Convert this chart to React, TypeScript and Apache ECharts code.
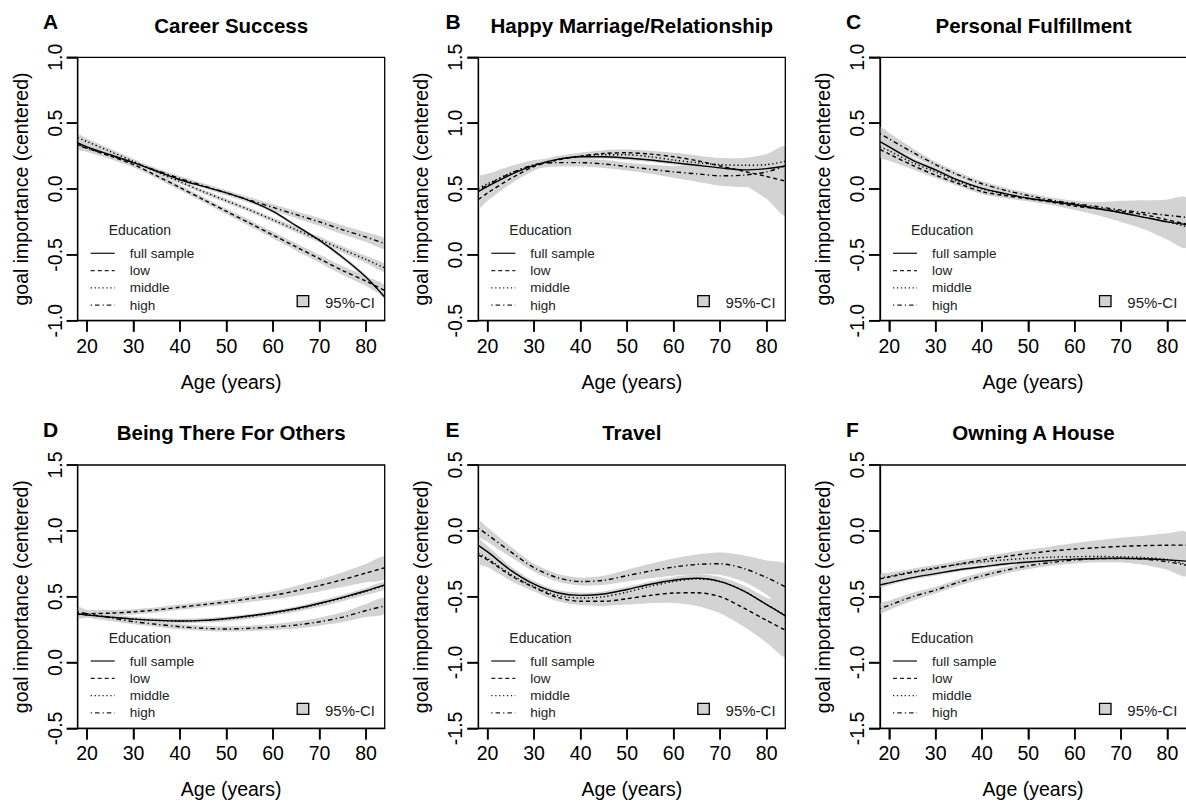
import React, { useEffect, useRef } from "react";
import * as echarts from "echarts";

const ages = [18, 20, 25, 30, 35, 40, 45, 50, 55, 60, 65, 70, 75, 80, 84];
const xTicks = [20, 30, 40, 50, 60, 70, 80];

const panelLetters = ["A", "B", "C", "D", "E", "F"];
const panelTitles = [
  "Career Success",
  "Happy Marriage/Relationship",
  "Personal Fulfillment",
  "Being There For Others",
  "Travel",
  "Owning A House",
];
const yMins = [-1, -0.5, -1, -0.5, -1.5, -1.5];
const yMaxs = [1, 1.5, 1, 1.5, 0.5, 0.5];
const groupNames = ["full sample", "low", "middle", "high"];

// A: Career Success
const A_full = [0.35, 0.32, 0.26, 0.2, 0.135, 0.07, 0.02, -0.03, -0.09, -0.17, -0.28, -0.39, -0.52, -0.67, -0.82];
const A_low = [0.34, 0.31, 0.25, 0.185, 0.1, 0.01, -0.08, -0.17, -0.26, -0.35, -0.44, -0.53, -0.62, -0.7, -0.77];
const A_mid = [0.39, 0.36, 0.285, 0.21, 0.13, 0.055, -0.02, -0.09, -0.16, -0.235, -0.31, -0.385, -0.46, -0.535, -0.6];
const A_high = [0.33, 0.31, 0.255, 0.2, 0.14, 0.08, 0.025, -0.03, -0.085, -0.14, -0.195, -0.25, -0.31, -0.365, -0.415];
const A_fullCI = [0.02, 0.015, 0.012, 0.01, 0.01, 0.01, 0.01, 0.01, 0.01, 0.012, 0.012, 0.015, 0.015, 0.018, 0.02];
const A_lowCI = [0.03, 0.028, 0.025, 0.022, 0.02, 0.02, 0.02, 0.022, 0.024, 0.026, 0.028, 0.03, 0.033, 0.036, 0.04];
const A_midCI = [0.025, 0.022, 0.02, 0.018, 0.016, 0.016, 0.016, 0.016, 0.016, 0.018, 0.02, 0.022, 0.024, 0.026, 0.03];
const A_highCI = [0.03, 0.027, 0.024, 0.02, 0.018, 0.018, 0.018, 0.02, 0.022, 0.024, 0.027, 0.03, 0.033, 0.037, 0.04];

// B: Happy Marriage/Relationship
const B_full = [0.48, 0.52, 0.61, 0.68, 0.725, 0.745, 0.745, 0.735, 0.72, 0.7, 0.68, 0.66, 0.645, 0.655, 0.675];
const B_low = [0.42, 0.47, 0.58, 0.67, 0.72, 0.75, 0.77, 0.775, 0.765, 0.745, 0.715, 0.675, 0.635, 0.595, 0.56];
const B_mid = [0.505, 0.54, 0.62, 0.68, 0.725, 0.75, 0.76, 0.76, 0.745, 0.72, 0.7, 0.685, 0.68, 0.685, 0.71];
const B_high = [0.49, 0.53, 0.62, 0.685, 0.7, 0.7, 0.69, 0.67, 0.65, 0.63, 0.615, 0.6, 0.605, 0.63, 0.675];
const B_fullCI = [0.03, 0.025, 0.02, 0.015, 0.015, 0.015, 0.015, 0.015, 0.015, 0.015, 0.018, 0.02, 0.022, 0.025, 0.03];
const B_lowCI = [0.07, 0.06, 0.04, 0.03, 0.025, 0.025, 0.025, 0.025, 0.025, 0.03, 0.04, 0.06, 0.1, 0.17, 0.26];
const B_midCI = [0.06, 0.05, 0.035, 0.025, 0.025, 0.025, 0.025, 0.025, 0.025, 0.025, 0.028, 0.03, 0.035, 0.04, 0.05];
const B_highCI = [0.1, 0.085, 0.055, 0.035, 0.03, 0.03, 0.03, 0.03, 0.035, 0.045, 0.06, 0.075, 0.09, 0.11, 0.14];

// C: Personal Fulfillment
const C_full = [0.36, 0.32, 0.22, 0.145, 0.065, 0.005, -0.035, -0.07, -0.095, -0.12, -0.15, -0.18, -0.215, -0.25, -0.27];
const C_low = [0.3, 0.265, 0.18, 0.105, 0.04, -0.02, -0.05, -0.075, -0.1, -0.13, -0.15, -0.17, -0.195, -0.235, -0.265];
const C_mid = [0.32, 0.29, 0.2, 0.13, 0.055, 0.0, -0.04, -0.07, -0.095, -0.115, -0.145, -0.18, -0.215, -0.25, -0.285];
const C_high = [0.42, 0.38, 0.28, 0.185, 0.105, 0.04, -0.01, -0.05, -0.085, -0.11, -0.135, -0.16, -0.18, -0.2, -0.215];
const C_fullCI = [0.03, 0.025, 0.02, 0.018, 0.015, 0.015, 0.015, 0.015, 0.015, 0.015, 0.018, 0.02, 0.022, 0.025, 0.03];
const C_lowCI = [0.06, 0.05, 0.03, 0.022, 0.02, 0.02, 0.02, 0.02, 0.022, 0.03, 0.05, 0.08, 0.11, 0.15, 0.18];
const C_midCI = [0.03, 0.028, 0.022, 0.02, 0.018, 0.018, 0.018, 0.018, 0.018, 0.02, 0.022, 0.024, 0.026, 0.028, 0.03];
const C_highCI = [0.05, 0.045, 0.03, 0.022, 0.02, 0.02, 0.02, 0.02, 0.02, 0.02, 0.03, 0.05, 0.08, 0.12, 0.15];

// D: Being There For Others
const D_full = [0.37, 0.36, 0.345, 0.33, 0.32, 0.315, 0.32, 0.335, 0.355, 0.38, 0.41, 0.45, 0.495, 0.545, 0.59];
const D_low = [0.365, 0.37, 0.375, 0.385, 0.4, 0.42, 0.44, 0.46, 0.485, 0.51, 0.545, 0.585, 0.63, 0.68, 0.72];
const D_mid = [0.375, 0.365, 0.345, 0.33, 0.32, 0.315, 0.32, 0.33, 0.35, 0.375, 0.405, 0.445, 0.49, 0.54, 0.585];
const D_high = [0.385, 0.37, 0.34, 0.31, 0.29, 0.272, 0.26, 0.255, 0.26, 0.27, 0.285, 0.31, 0.345, 0.395, 0.43];
const D_fullCI = [0.02, 0.018, 0.015, 0.012, 0.012, 0.012, 0.012, 0.012, 0.012, 0.012, 0.014, 0.016, 0.018, 0.02, 0.022];
const D_lowCI = [0.03, 0.028, 0.024, 0.02, 0.02, 0.02, 0.02, 0.022, 0.025, 0.03, 0.037, 0.045, 0.055, 0.07, 0.085];
const D_midCI = [0.025, 0.022, 0.02, 0.018, 0.018, 0.018, 0.018, 0.018, 0.018, 0.018, 0.02, 0.022, 0.024, 0.026, 0.028];
const D_highCI = [0.035, 0.03, 0.025, 0.02, 0.02, 0.02, 0.02, 0.02, 0.02, 0.022, 0.026, 0.03, 0.038, 0.05, 0.06];

// E: Travel
const E_full = [-0.11, -0.16, -0.3, -0.405, -0.47, -0.49, -0.48, -0.445, -0.405, -0.375, -0.36, -0.385, -0.455, -0.56, -0.645];
const E_low = [-0.185, -0.22, -0.34, -0.43, -0.505, -0.535, -0.535, -0.515, -0.49, -0.472, -0.47, -0.5, -0.585, -0.68, -0.755];
const E_mid = [-0.17, -0.21, -0.33, -0.425, -0.49, -0.51, -0.5, -0.465, -0.42, -0.385, -0.365, -0.385, -0.455, -0.56, -0.64];
const E_high = [0.02, -0.03, -0.16, -0.28, -0.355, -0.385, -0.375, -0.34, -0.305, -0.275, -0.255, -0.25, -0.285, -0.355, -0.425];
const E_fullCI = [0.05, 0.045, 0.03, 0.022, 0.02, 0.02, 0.02, 0.02, 0.02, 0.025, 0.03, 0.035, 0.04, 0.05, 0.06];
const E_lowCI = [0.065, 0.055, 0.04, 0.03, 0.03, 0.03, 0.035, 0.045, 0.06, 0.075, 0.1, 0.125, 0.14, 0.17, 0.2];
const E_midCI = [0.04, 0.035, 0.025, 0.02, 0.02, 0.02, 0.02, 0.02, 0.02, 0.022, 0.026, 0.03, 0.035, 0.042, 0.05];
const E_highCI = [0.06, 0.055, 0.04, 0.03, 0.03, 0.03, 0.035, 0.045, 0.055, 0.065, 0.075, 0.085, 0.1, 0.13, 0.17];

// F: Owning A House
const F_full = [-0.41, -0.395, -0.355, -0.325, -0.295, -0.273, -0.252, -0.237, -0.225, -0.215, -0.21, -0.208, -0.212, -0.22, -0.23];
const F_low = [-0.365, -0.35, -0.315, -0.285, -0.252, -0.222, -0.195, -0.172, -0.153, -0.138, -0.127, -0.118, -0.112, -0.109, -0.108];
const F_mid = [-0.36, -0.345, -0.31, -0.28, -0.255, -0.235, -0.22, -0.208, -0.2, -0.196, -0.195, -0.197, -0.203, -0.218, -0.255];
const F_high = [-0.59, -0.565, -0.5, -0.45, -0.39, -0.342, -0.3, -0.265, -0.24, -0.222, -0.212, -0.21, -0.215, -0.235, -0.26];
const F_fullCI = [0.02, 0.018, 0.015, 0.014, 0.013, 0.013, 0.013, 0.013, 0.013, 0.013, 0.014, 0.015, 0.016, 0.018, 0.02];
const F_lowCI = [0.035, 0.03, 0.025, 0.025, 0.025, 0.025, 0.027, 0.03, 0.035, 0.045, 0.055, 0.065, 0.075, 0.09, 0.1];
const F_midCI = [0.03, 0.027, 0.022, 0.02, 0.02, 0.02, 0.02, 0.02, 0.022, 0.025, 0.03, 0.04, 0.055, 0.075, 0.09];
const F_highCI = [0.04, 0.035, 0.03, 0.025, 0.025, 0.025, 0.025, 0.025, 0.025, 0.025, 0.027, 0.03, 0.04, 0.06, 0.08];

const panelLines = [
  [A_full, A_low, A_mid, A_high],
  [B_full, B_low, B_mid, B_high],
  [C_full, C_low, C_mid, C_high],
  [D_full, D_low, D_mid, D_high],
  [E_full, E_low, E_mid, E_high],
  [F_full, F_low, F_mid, F_high],
];
const panelCIs = [
  [A_fullCI, A_lowCI, A_midCI, A_highCI],
  [B_fullCI, B_lowCI, B_midCI, B_highCI],
  [C_fullCI, C_lowCI, C_midCI, C_highCI],
  [D_fullCI, D_lowCI, D_midCI, D_highCI],
  [E_fullCI, E_lowCI, E_midCI, E_highCI],
  [F_fullCI, F_lowCI, F_midCI, F_highCI],
];

const FONT = "'Liberation Sans', Arial, sans-serif";
const colLeft = [77.7, 478.3, 880];
const rowTop = [57.3, 465];
const GW = 307;
const GH = 263.4;
const TICK_LEN = 11;
const lineDashes: any[] = ["solid", [4, 3], [1.3, 2.6], [1.3, 3, 4.5, 3]];
const BAND = "#d3d3d3";

function yTickValues(i: number) {
  const out: number[] = [];
  for (let v = yMins[i]; v <= yMaxs[i] + 1e-9; v += 0.5) out.push(Math.round(v * 10) / 10);
  return out;
}

function buildOption() {
  const grids: any[] = [];
  const xAxes: any[] = [];
  const yAxes: any[] = [];
  const series: any[] = [];
  const graphics: any[] = [];

  for (let i = 0; i < 6; i++) {
    const left = colLeft[i % 3];
    const top = rowTop[Math.floor(i / 3)];
    grids.push({ left, top, width: GW, height: GH });
    xAxes.push({
      type: "value",
      gridIndex: i,
      min: 18,
      max: 84,
      name: "Age (years)",
      nameLocation: "middle",
      nameGap: 51,
      nameTextStyle: { fontFamily: FONT, fontSize: 19.5, color: "#000" },
      axisLine: { show: true, onZero: false, lineStyle: { color: "#000", width: 1.3 } },
      splitLine: { show: false },
      axisTick: {
        show: true,
        inside: false,
        length: TICK_LEN,
        customValues: xTicks,
        lineStyle: { color: "#000", width: 1.5 },
      },
      axisLabel: {
        customValues: xTicks,
        margin: 15,
        fontFamily: FONT,
        fontSize: 19.5,
        color: "#000",
      },
    });
    yAxes.push({
      type: "value",
      gridIndex: i,
      min: yMins[i],
      max: yMaxs[i],
      interval: 0.5,
      name: "goal importance (centered)",
      nameLocation: "middle",
      nameGap: 47,
      nameTextStyle: { fontFamily: FONT, fontSize: 19.5, color: "#000" },
      axisLine: { show: true, onZero: false, lineStyle: { color: "#000", width: 1.3 } },
      splitLine: { show: false },
      axisTick: { show: true, inside: false, length: TICK_LEN, lineStyle: { color: "#000", width: 1.5 } },
      axisLabel: {
        rotate: 90,
        margin: 13,
        fontFamily: FONT,
        fontSize: 19.5,
        color: "#000",
        formatter: (v: number) => v.toFixed(1),
      },
    });

    const lines = panelLines[i];
    const cis = panelCIs[i];
    lines.forEach((vals, k) => {
      const ci = cis[k];
      const lo = vals.map((v, j) => v - ci[j]);
      const hi = vals.map((v, j) => v + ci[j]);
      series.push({
        type: "custom",
        xAxisIndex: i,
        yAxisIndex: i,
        silent: true,
        clip: true,
        z: 1,
        data: ages.map((a, j) => [a, lo[j], hi[j]]),
        encode: { x: 0, y: [1, 2] },
        renderItem: (params: any, api: any) => {
          if (params.dataIndex !== 0) return null;
          const upper = ages.map((a, j) => api.coord([a, hi[j]]));
          const lower = ages.map((a, j) => api.coord([a, lo[j]])).reverse();
          return {
            type: "polygon",
            shape: { points: upper.concat(lower), smooth: 0.25 },
            style: { fill: BAND, stroke: null },
          };
        },
      });
    });
    lines.forEach((vals, k) => {
      series.push({
        type: "line",
        name: groupNames[k],
        xAxisIndex: i,
        yAxisIndex: i,
        smooth: 0.3,
        symbol: "none",
        silent: true,
        z: 3,
        lineStyle: { color: "#000", width: 1.4, type: lineDashes[k] },
        data: ages.map((a, j) => [a, vals[j]]),
      });
    });

    // outward tick marks, placed through the axes' scales
    const yVals = yTickValues(i);
    const yMin = yMins[i];
    series.push({
      type: "custom",
      xAxisIndex: i,
      yAxisIndex: i,
      silent: true,
      clip: false,
      z: 6,
      data: [[50, (yMins[i] + yMaxs[i]) / 2]],
      encode: { x: 0, y: 1 },
      renderItem: (params: any, api: any) => {
        const children: any[] = [];
        xTicks.forEach((v) => {
          const p = api.coord([v, yMin]);
          children.push({
            type: "rect",
            shape: { x: p[0] - 0.75, y: p[1], width: 1.5, height: TICK_LEN },
            style: { fill: "#000" },
          });
        });
        yVals.forEach((v) => {
          const p = api.coord([18, v]);
          children.push({
            type: "rect",
            shape: { x: p[0] - TICK_LEN, y: p[1] - 0.75, width: TICK_LEN, height: 1.5 },
            style: { fill: "#000" },
          });
        });
        return { type: "group", children };
      },
    });

    graphics.push({
      type: "polyline",
      z: 100,
      silent: true,
      shape: { points: [[left, top + GH], [left, top], [left + GW, top], [left + GW, top + GH], [left, top + GH]] },
      style: { fill: null, stroke: "#000", lineWidth: 1.3 },
    });
    const rowOff = Math.floor(i / 3) === 0 ? 0 : 407.7;
    graphics.push({
      type: "text",
      z: 100,
      x: [43, 445.5, 846][i % 3],
      y: 21.7 + rowOff + (i >= 3 ? 0.5 : 0),
      style: {
        text: panelLetters[i],
        font: `bold 21px ${FONT}`,
        fill: "#000",
        align: "left",
        verticalAlign: "middle",
        textAlign: "left",
        textVerticalAlign: "middle",
      },
    });
    graphics.push({
      type: "text",
      z: 100,
      x: left + GW / 2,
      y: 25 + rowOff,
      style: {
        text: panelTitles[i],
        font: `bold 20.5px ${FONT}`,
        fill: "#000",
        align: "center",
        verticalAlign: "middle",
        textAlign: "center",
        textVerticalAlign: "middle",
      },
    });
    graphics.push({
      type: "text",
      z: 100,
      x: left + 31,
      y: top + 172.7,
      style: {
        text: "Education",
        font: `14px ${FONT}`,
        fill: "#222",
        align: "left",
        verticalAlign: "middle",
        textAlign: "left",
        textVerticalAlign: "middle",
      },
    });
    const rowYs = [196, 213.3, 230.6, 247.8];
    groupNames.forEach((g, k) => {
      graphics.push({
        type: "line",
        z: 100,
        shape: { x1: left + 13, y1: top + rowYs[k], x2: left + 37, y2: top + rowYs[k] },
        style: {
          stroke: "#222",
          lineWidth: 1.3,
          lineDash: k === 0 ? null : lineDashes[k],
        },
      });
      graphics.push({
        type: "text",
        z: 100,
        x: left + 52,
        y: top + rowYs[k],
        style: {
          text: g,
          font: `13.5px ${FONT}`,
          fill: "#222",
          align: "left",
          verticalAlign: "middle",
          textAlign: "left",
          textVerticalAlign: "middle",
        },
      });
    });
    graphics.push({
      type: "rect",
      z: 100,
      shape: { x: left + 219.5, y: top + 238.4, width: 11.5, height: 11 },
      style: { fill: BAND, stroke: "#000", lineWidth: 1.3 },
    });
    graphics.push({
      type: "text",
      z: 100,
      x: left + 247.3,
      y: top + 245.5,
      style: {
        text: "95%-CI",
        font: `15px ${FONT}`,
        fill: "#222",
        align: "left",
        verticalAlign: "middle",
        textAlign: "left",
        textVerticalAlign: "middle",
      },
    });
  }

  return {
    animation: false,
    grid: grids,
    xAxis: xAxes,
    yAxis: yAxes,
    series,
    graphic: graphics,
  };
}

export default function App() {
  const ref = useRef<HTMLDivElement>(null);
  useEffect(() => {
    if (!ref.current) return;
    const chart = echarts.init(ref.current, undefined, { renderer: "svg" });
    chart.setOption(buildOption() as any);
    return () => chart.dispose();
  }, []);
  return (
    <div
      ref={ref}
      style={{ position: "absolute", left: 0, top: 0, width: 1186, height: 807, background: "#fff" }}
    />
  );
}
